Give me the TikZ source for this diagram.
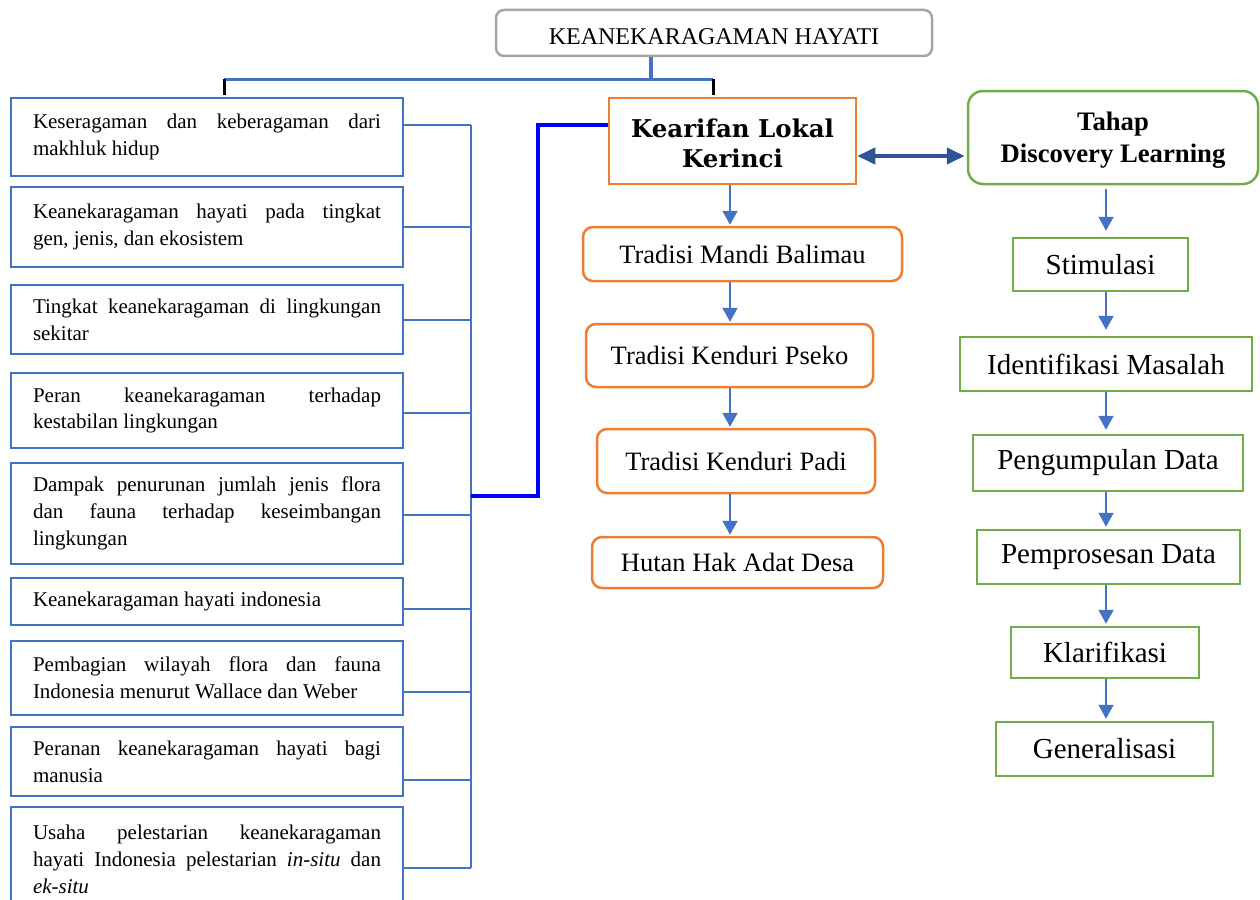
\documentclass[tikz,border=0pt]{standalone}
\usepackage{fontspec}
\setmainfont{Liberation Serif}
\newfontfamily\kfont{DejaVu Serif}
\usetikzlibrary{arrows.meta}
\definecolor{wblue}{HTML}{4472C4}
\definecolor{worange}{HTML}{ED7D31}
\definecolor{wgreen}{HTML}{70AD47}
\definecolor{wgray}{HTML}{A5A5A5}
\definecolor{wdark}{HTML}{2F5597}
\definecolor{pureblue}{HTML}{0000FF}
\begin{document}
\begin{tikzpicture}[x=1pt,y=-1pt,
  leftbox/.style={draw=wblue, line width=2.5pt, text width=348pt, inner xsep=22pt, inner ysep=0pt,
    align=justify, font=\fontsize{21}{26.7}\selectfont},
  orbox/.style={draw=worange, line width=2.5pt, rounded corners=10pt, inner sep=0pt,
    font=\fontsize{26.5}{30}\selectfont},
  gbox/.style={draw=wgreen, line width=2.5pt, inner sep=0pt, font=\fontsize{29}{32}\selectfont},
  arr/.style={draw=wblue, line width=2pt, -{Triangle[width=15pt,length=14pt]}},
  bus/.style={draw=wblue, line width=1.2pt},
  tick/.style={draw=black, line width=3pt}]
\clip (0,0) rectangle (1260,899);
\fill[white] (0,0) rectangle (1260,899);

% title
\node[draw=wgray, line width=2.5pt, rounded corners=8pt, minimum width=436pt, minimum height=46pt,
  inner sep=0pt, font=\fontsize{24}{28}\selectfont] (top) at (714,33) {\raisebox{-4pt}[\height][\depth]{KEANEKARAGAMAN HAYATI}};

% left boxes
\node[leftbox, minimum height=78pt] (b1) at (207,137) {Keseragaman dan keberagaman dari\linebreak makhluk hidup};
\node[leftbox, minimum height=80pt] (b2) at (207,227) {Keanekaragaman hayati pada tingkat\linebreak gen, jenis, dan ekosistem};
\node[leftbox, minimum height=69pt] (b3) at (207,319.5) {Tingkat keanekaragaman di lingkungan\linebreak sekitar};
\node[leftbox, minimum height=75pt] (b4) at (207,410.5) {Peran keanekaragaman terhadap\linebreak kestabilan lingkungan};
\node[leftbox, minimum height=101pt] (b5) at (207,513.5) {Dampak penurunan jumlah jenis flora\linebreak dan fauna terhadap keseimbangan\linebreak lingkungan};
\node[leftbox, minimum height=47pt] (b6) at (207,601.5) {Keanekaragaman hayati indonesia};
\node[leftbox, minimum height=74pt] (b7) at (207,678) {Pembagian wilayah flora dan fauna\linebreak Indonesia menurut Wallace dan Weber};
\node[leftbox, minimum height=69pt] (b8) at (207,761.5) {Peranan keanekaragaman hayati bagi\linebreak manusia};
\node[leftbox, minimum height=105pt] (b9) at (207,859.5) {Usaha pelestarian keanekaragaman\linebreak hayati Indonesia pelestarian \textit{in-situ} dan\linebreak \textit{ek-situ}};

% middle column
\node[draw=worange, line width=2.5pt, minimum width=247pt, minimum height=86pt, inner sep=0pt,
  align=center, font=\kfont\bfseries\fontsize{24.5}{30}\selectfont] (kear) at (732.5,141) {\raisebox{-2pt}[\height][\depth]{Kearifan Lokal}\\\raisebox{-2pt}[\height][\depth]{Kerinci}};
\node[orbox, minimum width=319pt, minimum height=54pt] (m1) at (742.5,254) {Tradisi Mandi Balimau};
\node[orbox, minimum width=287pt, minimum height=63pt] (m2) at (729.5,355.5) {Tradisi Kenduri Pseko};
\node[orbox, minimum width=278pt, minimum height=64pt] (m3) at (736,461) {Tradisi Kenduri Padi};
\node[orbox, minimum width=291pt, minimum height=51pt] (m4) at (737.5,562.5) {Hutan Hak Adat Desa};

% right column
\node[draw=wgreen, line width=2.5pt, rounded corners=15pt, minimum width=290pt, minimum height=93pt,
  inner sep=0pt, align=center, font=\bfseries\fontsize{26.7}{32}\selectfont] (tahap) at (1113,137.5) {\raisebox{-3pt}[\height][\depth]{Tahap}\\\raisebox{-3pt}[\height][\depth]{Discovery Learning}};
\node[gbox, minimum width=175pt, minimum height=53pt] (r1) at (1100.5,264.5) {Stimulasi};
\node[gbox, minimum width=292pt, minimum height=54pt] (r2) at (1106,364) {Identifikasi Masalah};
\node[gbox, minimum width=270pt, minimum height=56pt] (r3) at (1108,463) {Pengumpulan Data};
\node[gbox, minimum width=263pt, minimum height=54pt] (r4) at (1108.5,557) {Pemprosesan Data};
\node[gbox, minimum width=188pt, minimum height=51pt] (r5) at (1105,652.5) {Klarifikasi};
\node[gbox, minimum width=217pt, minimum height=54pt] (r6) at (1104.5,749) {Generalisasi};

% top connectors
\coordinate (stem) at (651,79);
\coordinate (hl) at (224,79);
\coordinate (hr) at (713,79);
\draw[draw=wblue, line width=4pt] (top.south -| stem) -- (stem);
\draw[draw=wblue, line width=3pt] (hl) -- (hr);
\draw[tick] (hl) -- ([yshift=2pt]hl |- b1.north);
\draw[tick] (hr) -- ([yshift=2pt]hr |- kear.north);

% left bus
\coordinate (t1) at (471,125);
\coordinate (t2) at (471,227);
\coordinate (t3) at (471,320);
\coordinate (t4) at (471,413);
\coordinate (t5) at (471,515);
\coordinate (t6) at (471,609);
\coordinate (t7) at (471,692);
\coordinate (t8) at (471,780);
\coordinate (t9) at (471,868);
\draw[bus] (t1) -- (t9);
\foreach \i in {1,...,9} { \draw[bus] (t\i -| b\i.east) -- (t\i); }

% thick blue link
\coordinate (j1) at (471,496);
\coordinate (j2) at (538,496);
\coordinate (j3) at (538,125);
\draw[draw=pureblue, line width=4pt] (j1) -- (j2) -- (j3) -- (j3 -| kear.west);

% double arrow
\draw[draw=wdark, fill=wdark, line width=4pt, {Triangle[width=16pt,length=18pt]}-{Triangle[width=16pt,length=18pt]}]
  ([yshift=-15pt]kear.east) -- ([yshift=-15pt,xshift=-2pt]kear.east -| tahap.west);

% middle arrows
\coordinate (cx) at (730,0);
\draw[arr] (kear.south -| cx) -- ([yshift=1pt]m1.north -| cx);
\draw[arr] (m1.south -| cx) -- ([yshift=1pt]m2.north -| cx);
\draw[arr] (m2.south -| cx) -- ([yshift=1pt]m3.north -| cx);
\draw[arr] (m3.south -| cx) -- ([yshift=1pt]m4.north -| cx);

% right arrows
\coordinate (rx) at (1106,0);
\draw[arr] ([yshift=-4pt]tahap.south -| rx) -- ([yshift=6pt]r1.north -| rx);
\draw[arr] (r1.south -| rx) -- ([yshift=6pt]r2.north -| rx);
\draw[arr] (r2.south -| rx) -- ([yshift=4pt]r3.north -| rx);
\draw[arr] (r3.south -| rx) -- ([yshift=2pt]r4.north -| rx);
\draw[arr] (r4.south -| rx) -- ([yshift=2pt]r5.north -| rx);
\draw[arr] (r5.south -| rx) -- ([yshift=2pt]r6.north -| rx);
\end{tikzpicture}
\end{document}
